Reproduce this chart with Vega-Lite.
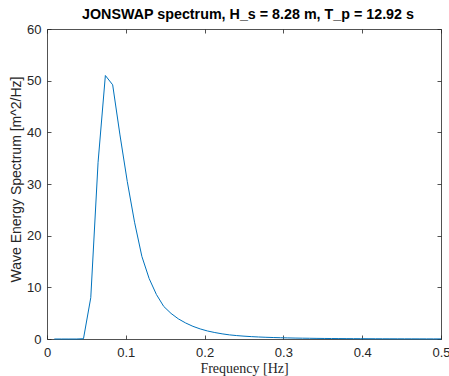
{
  "$schema": "https://vega.github.io/schema/vega-lite/v6.json",
  "width": 394,
  "height": 310,
  "autosize": {"type": "none"},
  "padding": {"left": 47, "top": 29, "right": 8, "bottom": 37},
  "background": "white",
  "title": {
    "text": "JONSWAP spectrum, H_s = 8.28 m, T_p = 12.92 s",
    "font": "Liberation Sans",
    "fontSize": 14.3,
    "fontWeight": "bold",
    "color": "#000000",
    "offset": 1,
    "anchor": "middle",
    "dx": 4
  },
  "config": {
    "view": {"stroke": null},
    "axis": {
      "grid": false,
      "labelFlush": false,
      "domainColor": "#262626",
      "tickColor": "#262626",
      "labelColor": "#262626",
      "titleColor": "#262626",
      "labelFont": "Liberation Sans",
      "labelFontSize": 13,
      "titleFont": "Liberation Sans",
      "titleFontSize": 14,
      "titleFontWeight": "normal",
      "domainWidth": 0.8,
      "tickWidth": 0.8
    }
  },
  "data": {
    "values": [
      {"f": 0.00926, "S": 0},
      {"f": 0.01852, "S": 0},
      {"f": 0.02778, "S": 0},
      {"f": 0.03704, "S": 0},
      {"f": 0.04630, "S": 0.05},
      {"f": 0.05556, "S": 8.0},
      {"f": 0.06481, "S": 34.2},
      {"f": 0.07407, "S": 51.0},
      {"f": 0.08333, "S": 49.2},
      {"f": 0.09259, "S": 39.5},
      {"f": 0.10185, "S": 30.5},
      {"f": 0.11111, "S": 22.6},
      {"f": 0.12037, "S": 16.0},
      {"f": 0.12963, "S": 11.7},
      {"f": 0.13889, "S": 8.6},
      {"f": 0.14815, "S": 6.3},
      {"f": 0.15741, "S": 4.95},
      {"f": 0.16667, "S": 3.9},
      {"f": 0.17593, "S": 3.1},
      {"f": 0.18519, "S": 2.45},
      {"f": 0.19444, "S": 1.95},
      {"f": 0.20370, "S": 1.55},
      {"f": 0.21296, "S": 1.25},
      {"f": 0.22222, "S": 1.0},
      {"f": 0.23148, "S": 0.8},
      {"f": 0.24074, "S": 0.66},
      {"f": 0.25000, "S": 0.55},
      {"f": 0.25926, "S": 0.46},
      {"f": 0.26852, "S": 0.39},
      {"f": 0.27778, "S": 0.33},
      {"f": 0.28704, "S": 0.285},
      {"f": 0.29630, "S": 0.245},
      {"f": 0.30556, "S": 0.21},
      {"f": 0.31481, "S": 0.18},
      {"f": 0.32407, "S": 0.16},
      {"f": 0.33333, "S": 0.14},
      {"f": 0.34259, "S": 0.12},
      {"f": 0.35185, "S": 0.105},
      {"f": 0.36111, "S": 0.093},
      {"f": 0.37037, "S": 0.082},
      {"f": 0.37963, "S": 0.073},
      {"f": 0.38889, "S": 0.065},
      {"f": 0.39815, "S": 0.058},
      {"f": 0.40741, "S": 0.052},
      {"f": 0.41667, "S": 0.046},
      {"f": 0.42593, "S": 0.041},
      {"f": 0.43519, "S": 0.037},
      {"f": 0.44444, "S": 0.034},
      {"f": 0.45370, "S": 0.031},
      {"f": 0.46296, "S": 0.028},
      {"f": 0.47222, "S": 0.025},
      {"f": 0.48148, "S": 0.023},
      {"f": 0.49074, "S": 0.021},
      {"f": 0.50000, "S": 0.019}
    ]
  },
  "layer": [
    {
      "mark": {"type": "line", "color": "#0072BD", "strokeWidth": 1},
      "encoding": {
        "x": {
          "field": "f",
          "type": "quantitative",
          "scale": {"domain": [0, 0.5], "nice": false, "zero": false},
          "axis": {
            "values": [0, 0.1, 0.2, 0.3, 0.4, 0.5],
            "format": "~g",
            "tickSize": -4,
            "labelPadding": 11,
            "title": "Frequency [Hz]",
            "titleFont": "Liberation Serif",
            "titleFontSize": 14,
            "titlePadding": 2
          }
        },
        "y": {
          "field": "S",
          "type": "quantitative",
          "scale": {"domain": [0, 60], "nice": false},
          "axis": {
            "values": [0, 10, 20, 30, 40, 50, 60],
            "tickSize": -4,
            "labelPadding": 10,
            "title": "Wave Energy Spectrum [m^2/Hz]",
            "titlePadding": 3,
            "titleY": 150
          }
        }
      }
    },
    {
      "mark": {"type": "line", "opacity": 0},
      "encoding": {
        "x": {
          "field": "f",
          "type": "quantitative",
          "axis": {
            "orient": "top",
            "values": [0, 0.1, 0.2, 0.3, 0.4, 0.5],
            "tickSize": -4,
            "labels": false,
            "title": null
          }
        },
        "y": {
          "field": "S",
          "type": "quantitative",
          "axis": {
            "orient": "right",
            "values": [0, 10, 20, 30, 40, 50, 60],
            "tickSize": -4,
            "labels": false,
            "title": null
          }
        }
      }
    }
  ],
  "resolve": {"axis": {"x": "independent", "y": "independent"}}
}
